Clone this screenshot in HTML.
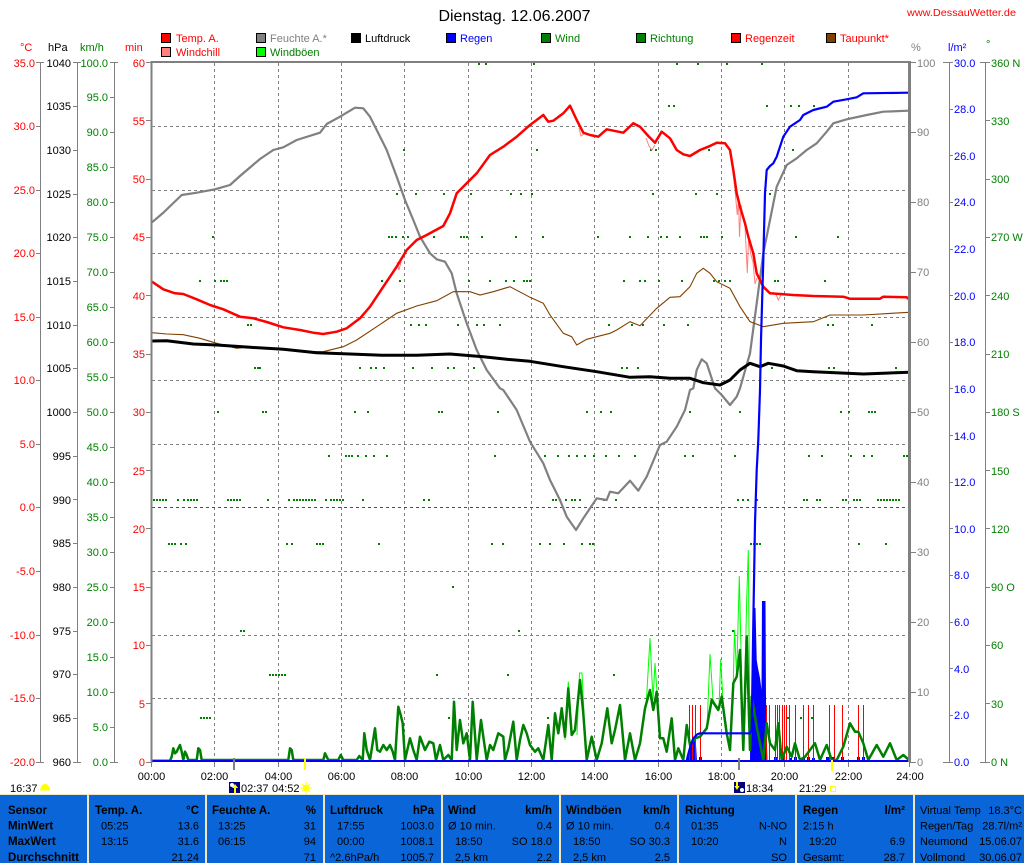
<!DOCTYPE html>
<html><head><meta charset="utf-8">
<style>
html,body{margin:0;padding:0;background:#fff;}
body{width:1024px;height:863px;overflow:hidden;}
svg{display:block;font-family:"Liberation Sans",Arial,sans-serif;}
.t11{font-size:11px;}
.b{font-weight:bold;font-size:11.5px;}
</style></head>
<body>
<svg width="1024" height="863" viewBox="0 0 1024 863" xmlns="http://www.w3.org/2000/svg">
<rect x="0" y="0" width="1024" height="863" fill="#fff"/>

<!-- Title -->
<text x="514.5" y="21" font-size="16" text-anchor="middle" fill="#000">Dienstag. 12.06.2007</text>
<text x="907" y="16" font-size="10.5" fill="#ff0000" textLength="109" lengthAdjust="spacingAndGlyphs">www.DessauWetter.de</text>

<!-- Legend -->
<g class="t11" font-size="10.5">
<rect x="161.5" y="33.5" width="9" height="9" fill="#ff0000" stroke="#000"/><text x="176" y="42" fill="#ff0000">Temp. A.</text>
<rect x="161.5" y="47.5" width="9" height="9" fill="#ff8080" stroke="#000"/><text x="176" y="56" fill="#ff0000">Windchill</text>
<rect x="256.5" y="33.5" width="9" height="9" fill="#808080" stroke="#000"/><text x="270" y="42" fill="#808080">Feuchte A.*</text>
<rect x="256.5" y="47.5" width="9" height="9" fill="#00ff00" stroke="#000"/><text x="270" y="56" fill="#008000">Windböen</text>
<rect x="351.5" y="33.5" width="9" height="9" fill="#000" stroke="#000"/><text x="365" y="42" fill="#000">Luftdruck</text>
<rect x="446.5" y="33.5" width="9" height="9" fill="#0000ff" stroke="#000"/><text x="460" y="42" fill="#0000ff">Regen</text>
<rect x="541.5" y="33.5" width="9" height="9" fill="#008000" stroke="#000"/><text x="555" y="42" fill="#008000">Wind</text>
<rect x="636.5" y="33.5" width="9" height="9" fill="#008000" stroke="#000"/><text x="650" y="42" fill="#008000">Richtung</text>
<rect x="731.5" y="33.5" width="9" height="9" fill="#ff0000" stroke="#000"/><text x="745" y="42" fill="#ff0000">Regenzeit</text>
<rect x="826.5" y="33.5" width="9" height="9" fill="#804000" stroke="#000"/><text x="840" y="42" fill="#ff0000">Taupunkt*</text>
</g>

<!-- Axis titles -->
<g class="t11">
<text x="20" y="51" fill="#ff0000">°C</text>
<text x="48" y="51" fill="#000">hPa</text>
<text x="80" y="51" fill="#008000">km/h</text>
<text x="125" y="51" fill="#ff0000">min</text>
<text x="911" y="51" fill="#808080">%</text>
<text x="948" y="51" fill="#0000ff">l/m²</text>
<text x="986" y="48" fill="#008000">°</text>
</g>

<!-- Grid -->
<g stroke="#808080" stroke-width="1" stroke-dasharray="3,3" shape-rendering="crispEdges">
<path d="M152 126.5H909M152 190.5H909M152 253.5H909M152 317.5H909M152 380.5H909M152 444.5H909M152 571.5H909M152 635.5H909M152 698.5H909"/>
<path d="M214.5 63V762M278.5 63V762M341.5 63V762M404.5 63V762M468.5 63V762M531.5 63V762M594.5 63V762M658.5 63V762M721.5 63V762M784.5 63V762M848.5 63V762"/>
</g>
<path d="M152 507.5H909" stroke="#ff0000" stroke-dasharray="3,3" shape-rendering="crispEdges"/>

<!-- Wind direction dots -->
<path stroke="#008000" stroke-width="2" fill="none" shape-rendering="crispEdges" d="
M478 64h2M485 64h2M533 64h2M676 64h2M697 64h2M726 64h2M761 64h2
M668 106h2M673 106h2M766 106h2M790 106h2M798 106h2M813 106h2
M403 150h2M536 150h2M650 150h2M655 150h2M708 150h2M792 150h2
M396 194h2M415 194h2M443 194h2M470 194h2M510 194h2M520 194h2M531 194h2M652 194h2M695 194h2M716 194h2M769 194h2
M212 237h2M388 237h2M391 237h2M395 237h2M402 237h2M407 237h2M433 237h2M460 237h2M463 237h2M466 237h2M481 237h2M515 237h2M542 237h2M597 237h2M629 237h2M647 237h2M660 237h2M666 237h2M679 237h2M700 237h2M703 237h2M706 237h2M721 237h2M795 237h2M837 237h2
M199 281h2M214 281h2M220 281h2M223 281h2M226 281h2M381 281h2M399 281h2M468 281h2M489 281h2M505 281h2M513 281h2M523 281h2M526 281h2M529 281h2M623 281h2M639 281h2M644 281h2M658 281h2M681 281h2M713 281h2M718 281h2M724 281h2M729 281h2M774 281h2M777 281h2M824 281h2
M247 325h2M250 325h2M410 325h2M418 325h2M425 325h2M457 325h2M476 325h2M483 325h2M499 325h2M608 325h2M631 325h2M642 325h2M663 325h2M687 325h2M827 325h2M832 325h2M871 325h2
M254 368h2M257 368h2M259 368h2M359 368h2M370 368h2M375 368h2M383 368h2M412 368h2M431 368h2M447 368h2M453 368h2M473 368h2M621 368h2M626 368h2M637 368h2M771 368h2M828 368h2M833 368h2M895 368h2
M217 412h2M262 412h2M265 412h2M354 412h2M367 412h2M438 412h2M441 412h2M497 412h2M586 412h2M600 412h2M610 412h2M689 412h2M739 412h2M840 412h2M848 412h2M868 412h2M871 412h2M874 412h2
M328 456h2M345 456h2M348 456h2M351 456h2M357 456h2M365 456h2M373 456h2M386 456h2M494 456h2M544 456h2M557 456h2M568 456h2M576 456h2M584 456h2M593 456h2M605 456h2M618 456h2M634 456h2M684 456h2M692 456h2M734 456h2M808 456h2M821 456h2M850 456h2M863 456h2M871 456h2M903 456h2M906 456h2
M153 500h2M156 500h2M159 500h2M162 500h2M165 500h2M177 500h2M183 500h2M187 500h2M190 500h2M193 500h2M196 500h2M227 500h2M230 500h2M233 500h2M236 500h2M239 500h2M267 500h2M288 500h2M293 500h2M296 500h2M299 500h2M302 500h2M305 500h2M308 500h2M311 500h2M314 500h2M325 500h2M330 500h2M333 500h2M336 500h2M339 500h2M342 500h2M362 500h2M423 500h2M428 500h2M552 500h2M555 500h2M559 500h2M565 500h2M571 500h2M574 500h2M579 500h2M603 500h2M615 500h2M737 500h2M742 500h2M747 500h2M756 500h2M803 500h2M806 500h2M816 500h2M819 500h2M842 500h2M845 500h2M853 500h2M856 500h2M859 500h2M877 500h2M880 500h2M883 500h2M886 500h2M889 500h2M892 500h2M895 500h2M898 500h2M908 500h1
M168 544h2M171 544h2M174 544h2M180 544h2M185 544h2M286 544h2M291 544h2M316 544h2M319 544h2M322 544h2M378 544h2M491 544h2M502 544h2M539 544h2M549 544h2M563 544h2M581 544h2M589 544h2M592 544h2M750 544h2M753 544h2M756 544h2M759 544h2M858 544h2M885 544h2
M452 587h2
M240 631h2M243 631h2M518 631h2M732 631h2
M269 675h2M272 675h2M275 675h2M278 675h2M281 675h2M284 675h2M436 675h2M507 675h2M613 675h2
M200 718h2M203 718h2M206 718h2M209 718h2M448 718h2M547 718h2M787 718h2M800 718h2M811 718h2"/>

<!-- Rain bars -->
<g fill="#0000ff">
<polygon points="686,762 688,752 690,744 692,739 694,738 696,745 697,762"/>
<polygon points="750,762 750.5,705 751.7,718 753,640 754,608 755.5,608 756.7,660 758,668 760,678 761.5,690 762,601 765.5,601 766,700 766.7,737 767.5,762"/>
<rect x="699" y="757" width="3" height="5"/><rect x="774" y="757" width="3" height="5"/><rect x="782" y="757" width="3" height="5"/><rect x="789" y="758" width="3" height="4"/><rect x="794" y="757" width="3" height="5"/><rect x="802" y="758" width="3" height="4"/><rect x="807" y="757" width="3" height="5"/><rect x="812" y="758" width="3" height="4"/><rect x="826" y="757" width="3" height="5"/><rect x="832" y="757" width="3" height="5"/><rect x="841" y="757" width="3" height="5"/><rect x="857" y="757" width="3" height="5"/><rect x="862" y="757" width="3" height="5"/>
</g>

<!-- Regenzeit -->
<path stroke="#ff0000" stroke-width="1" shape-rendering="crispEdges" d="M689.5 705V762M692.5 705V762M695.5 705V762M700.5 705V762M766.5 705V762M769.5 705V762M775.5 705V762M777.5 705V762M779.5 705V762M782.5 705V762M784.5 705V762M786.5 705V762M789.5 705V762M795.5 705V762M803.5 705V762M808.5 705V762M813.5 705V762M829.5 705V762M834.5 705V762M842.5 705V762M858.5 705V762M863.5 705V762"/>

<!-- Gusts -->
<g fill="none" stroke="#00ff00" stroke-width="1">
<polyline points="565,740 568.3,681.7 571.7,735"/>
<polyline points="577,735 579.5,673 582,673 584,713"/>
<polyline points="646,708 650,638 653,700 655,663 657,692"/>
<polyline points="707,728 710,654 713,700 716,705 719,708 720.7,659 724,720"/>
<polyline points="730,750 733.3,683 734.5,630 736.7,676 739.3,576 741,650 743.3,750 746.7,600 748.3,550 750,750"/>
</g>

<!-- Wind -->
<polyline fill="none" stroke="#008000" stroke-width="2.5" stroke-linejoin="round" points="152,760.7 170,760.7 171.7,756.7 173.3,748.3 175,753.3 176.7,751.7 178.3,748.3 180,745 181.7,751.7 183.3,760 185,751.7 186.7,755 188.3,760 196.7,760 198.3,748.3 200,750 201.7,760 288.3,760 290,748.3 291.7,750 293.3,760 323.3,760 325,753.3 328.3,760 338.3,760 340.7,755 343.3,760 356.7,760 359.3,756 362.7,760 364.3,733.3 366.7,750 370,760 375,728.3 377.3,750 380,751.7 383.3,745 386.7,750 390,745 392.7,751.7 395,760 398.3,706.7 400.7,715 402.7,723.3 405,760 410,738.3 413.3,750 416.7,760 420,736.7 425,750 429.3,741.7 433.3,743.3 436,760 440,745 443.3,760 448.3,755 451.7,760 454,701.7 456.7,750 460,720 463.3,743.3 466.7,733.3 470,760 472.7,701.7 476.7,760 481,720 483.3,736.7 486.7,760 490,745 493.3,750 498.3,733.3 503.3,736.7 505,760 508.3,748.3 513.3,721.7 516.7,760 520,740 523.3,725 526.7,733.3 530,745 535,751.7 538.3,748.3 543.3,760 548.3,725 551.7,760 555,713.3 558.3,733.3 561.7,708.3 565,736.7 568.3,688.3 571.7,735 575,730 580,680 583.3,713.3 586.7,760 591.7,736.7 596.7,760 601.7,743.3 607.3,708.3 611.7,743.3 615,730 620,705 625,760 630,733.3 635,760 640,743.3 645,708.3 650,690 653.3,710 656.7,691.7 660,738.3 663.3,738.3 666.7,751.7 671.7,718.3 675,760 678.3,748.3 683.3,760 686.7,725 690,745 695,738.3 700,736.7 706.7,728.3 711.7,700 715,705 718.3,710 721.7,696.7 726.7,733.3 730,750 733.3,683.3 736.7,676.7 740,650 743.3,750 746.7,636.7 750,750 751.7,696.7 756.7,726.7 760,743.3 763.3,760 766.7,723.3 770,743.3 775,750 778.3,723.3 781.7,760 786.7,746.7 791.7,756.7 795,743.3 800,760 805,756.7 815,743.3 820,760 826.7,745 831.7,760 836.7,760 843.3,746.7 850,723.3 855,731.7 858.3,731.7 863.3,743.3 868.3,760 876.7,745 883.3,756.7 890,743.3 896.7,760 903.3,755 909,760"/>

<!-- Rain zero line -->
<path d="M152 761H909" stroke="#0000ff" stroke-width="2"/>

<!-- Humidity -->
<polyline fill="none" stroke="#808080" stroke-width="2.2" stroke-linejoin="round" points="152,222.3 163,213 181.7,195 196.7,192.7 215,189.3 230,185 240,176 260,159 273.3,150 283.3,147.3 296.7,140 320,132.7 326.7,124 340,116.7 355,107.7 363.3,108.3 370,116.7 376.7,130 386.7,150 396.7,176.7 405,200 413.3,220 420,236.7 430,253.3 436.7,259.3 445,261.7 451.7,273.3 456.7,293.3 466.7,323.3 476.7,350 486.7,370 500,388.3 503.3,390 516.7,410 530,441.7 543.3,463.3 550,480 560,500 566.7,516.7 576,530 583.3,518.3 596.7,498.3 606.7,500 610,491.7 618.3,493.3 630,480.7 638.3,490.7 646.7,476.7 660,445 666.7,441.7 676.7,426.7 685,410 690,390 693.3,388.3 696.7,370 701.7,359.3 706.7,363.3 715,388.3 716.7,390 721.7,395 730,405 736.7,396.7 740,388.3 750,353.3 756.7,303.3 763.3,253.3 770,220 776.7,186.7 786.7,165 796.7,158.3 806.7,150 816.7,143.3 826.7,131.7 833.3,123.3 846.7,119.3 866.7,115 883.3,111.7 909,110.7"/>

<!-- Dewpoint -->
<polyline fill="none" stroke="#804000" stroke-width="1.1" points="152,332.7 166.7,334 183.3,334.7 200,338.3 216.7,343.3 236.7,348.3 250,346.7 283.3,349.3 300,351.7 323.3,351.7 343.3,346.7 356.7,340 376.7,326.7 396.7,313.3 416.7,306 436.7,300.7 453.3,291.7 470,291.7 480,295 493.3,291.7 510,286.7 530,297.3 543.3,303.3 550,315 563.3,333.3 571.7,336.7 576.7,345 586.7,339.3 596.7,336.7 610,333.3 616.7,330 630,321.7 640,325.7 656.7,308.3 670,297.3 680,296.7 690,286.7 696.7,273.3 703.3,268.3 710,273.3 716.7,281.7 730,288.3 740,306.7 750,321.7 763.3,326.7 783.3,323.3 813.3,321.7 830,315 863.3,315 909,312.3"/>

<!-- Pressure -->
<polyline fill="none" stroke="#000" stroke-width="3" stroke-linejoin="round" points="152,341 166.7,340.7 193.3,344 216.7,345 250,347.3 283.3,349.3 316.7,352.7 350,354 383.3,355.3 416.7,355.3 450,354 483.3,356.7 506.7,359.3 530,361.3 563.3,366.7 596.7,371.7 630,377.3 650,376.7 670,378.3 690,378.3 703.3,382.7 720,385 730,380 740,370 750,363.3 760,366.7 768.3,363.3 783.3,366 796.7,370.7 813.3,371.7 846.7,373.3 863.3,374 909,372.3"/>

<!-- Windchill -->
<g fill="none" stroke="#ff8080" stroke-width="1">
<polyline points="733,170 735,190 737.3,215 738.5,200 739.5,237 741,205 743.3,219 745,226 747.3,273 748.5,240 751,255 753,262 755,284 757,278"/>
<polyline points="776,294 778.3,300 781,295"/>
<polyline points="449,215 452,207 455,200"/>
<polyline points="579,128 581,136 584,134"/>
<polyline points="646,138 649,146 652,150 655,145"/>
<polyline points="397,262 399,270 401,262"/>
</g>

<!-- Temperature -->
<polyline fill="none" stroke="#ff0000" stroke-width="2.5" stroke-linejoin="round" points="152,281.7 163.3,289.3 175,293.3 183.3,294 196.7,299.3 210,305 223.3,309.3 240,316.7 253.3,318.3 266.7,322 283.3,327.3 300,330 313.3,332.7 323.3,334 336.7,331.7 346.7,328.3 360,318.3 370,306.7 383.3,286.7 396.7,266.7 406.7,250 416.7,240 426.7,235 443.3,226 450,213.3 456.7,193.3 466.7,183.3 476.7,173.3 490,155 503.3,146.7 516.7,136.7 530,125 536.7,120 543.3,115 548.3,121.7 553.3,120.7 563.3,113.3 570,105.7 576.7,120 583.3,132.7 590,135 598.3,136.7 606.7,129.3 623.3,132.7 633.3,123.3 640,126.7 648.3,136 655,142.7 661.7,131.7 670,138.3 676.7,150 683.3,154.3 690,156 700,150 708.3,146.7 716.7,142.7 725,143.3 730,150 733.3,170 736.7,193.3 740,206.7 745,223.3 748.3,236.7 753.3,253.3 756.7,273.3 763.3,286.7 770,293.3 793.3,295 813.3,296 843.3,296.7 850,298.7 880,298.7 883.3,296.7 906.7,297.3 909,299.3"/>

<!-- Cumulative rain -->
<polyline fill="none" stroke="#0000ff" stroke-width="2.2" stroke-linejoin="round" points="686.7,761 688,755 690,748 693.3,738.3 697,734.5 700,733.3 750,733.3 751.7,730 753.3,623 755,523 756.7,470 758.3,440 760,390 761,340 763.3,260 765,193.3 766.7,170 770,166 773.3,163.3 776.7,156.7 783.3,136.7 790,126.7 800,120 803.3,115 813.3,110 826.7,106.7 833.3,101.7 846.7,99.3 856.7,97.3 863.3,93.3 909,92.7"/>

<!-- Plot border -->
<g stroke="#808080" fill="none" shape-rendering="crispEdges">
<path d="M151 62H911" stroke-width="2"/>
<path d="M151.5 61V763" stroke-width="2"/>
<path d="M910 61V763" stroke-width="2"/>
<path d="M908.5 62V762" stroke-width="1"/>
<!-- left axes -->
<path d="M40.5 62V762M77.5 62V762M114.5 62V762M949.5 62V762M985.5 62V762" stroke-width="1"/>
<!-- top/bottom T ticks -->
<path d="M36 62.5H44M73 62.5H81M110 62.5H118M943 62.5H953M980 62.5H990M36 762.5H44M73 762.5H81M110 762.5H118M943 762.5H953M980 762.5H990"/>
<!-- temp ticks -->
<path d="M36 126.5H40M36 190.5H40M36 253.5H40M36 317.5H40M36 380.5H40M36 444.5H40M36 507.5H40M36 571.5H40M36 635.5H40M36 698.5H40"/>
<!-- hPa ticks -->
<path d="M73 106.5H77M73 150.5H77M73 194.5H77M73 237.5H77M73 281.5H77M73 325.5H77M73 368.5H77M73 412.5H77M73 456.5H77M73 499.5H77M73 543.5H77M73 587.5H77M73 631.5H77M73 674.5H77M73 718.5H77"/>
<!-- km/h ticks -->
<path d="M110 97.5H114M110 132.5H114M110 167.5H114M110 202.5H114M110 237.5H114M110 272.5H114M110 307.5H114M110 342.5H114M110 377.5H114M110 412.5H114M110 447.5H114M110 482.5H114M110 517.5H114M110 552.5H114M110 587.5H114M110 622.5H114M110 657.5H114M110 692.5H114M110 727.5H114"/>
<!-- min ticks -->
<path d="M146 62.5H151M146 120.5H151M146 179.5H151M146 237.5H151M146 295.5H151M146 354.5H151M146 412.5H151M146 470.5H151M146 528.5H151M146 587.5H151M146 645.5H151M146 703.5H151M146 762.5H151"/>
<!-- % ticks -->
<path d="M911 62.5H916M911 132.5H916M911 202.5H916M911 272.5H916M911 342.5H916M911 412.5H916M911 482.5H916M911 552.5H916M911 622.5H916M911 692.5H916M911 762.5H916"/>
<!-- l/m2 ticks -->
<path d="M949 109.5H953M949 155.5H953M949 202.5H953M949 249.5H953M949 295.5H953M949 342.5H953M949 388.5H953M949 435.5H953M949 482.5H953M949 528.5H953M949 575.5H953M949 622.5H953M949 668.5H953M949 715.5H953"/>
<!-- dir ticks -->
<path d="M985 120.5H990M985 179.5H990M985 237.5H990M985 295.5H990M985 354.5H990M985 412.5H990M985 470.5H990M985 528.5H990M985 587.5H990M985 645.5H990M985 703.5H990"/>
<!-- bottom time ticks -->
<path d="M151.5 762V767M214.5 762V767M278.5 762V767M341.5 762V767M404.5 762V767M468.5 762V767M531.5 762V767M594.5 762V767M658.5 762V767M721.5 762V767M784.5 762V767M848.5 762V767M909.5 762V767"/>
</g>
<rect x="233" y="758" width="2" height="12" fill="#808080"/>
<rect x="738" y="758" width="2" height="12" fill="#808080"/>
<rect x="304" y="758" width="2" height="12" fill="#ffff00"/>
<rect x="831" y="760" width="2" height="11" fill="#ffff00"/>

<!-- Left axis labels -->
<g class="t11" fill="#ff0000" text-anchor="end">
<text x="35" y="67">35.0</text><text x="35" y="130">30.0</text><text x="35" y="194">25.0</text><text x="35" y="257">20.0</text><text x="35" y="321">15.0</text><text x="35" y="384">10.0</text><text x="35" y="448">5.0</text><text x="35" y="511">0.0</text><text x="35" y="575">-5.0</text><text x="35" y="639">-10.0</text><text x="35" y="702">-15.0</text><text x="35" y="766">-20.0</text>
</g>
<g class="t11" fill="#000" text-anchor="end">
<text x="71" y="67">1040</text><text x="71" y="110">1035</text><text x="71" y="154">1030</text><text x="71" y="198">1025</text><text x="71" y="241">1020</text><text x="71" y="285">1015</text><text x="71" y="329">1010</text><text x="71" y="372">1005</text><text x="71" y="416">1000</text><text x="71" y="460">995</text><text x="71" y="504">990</text><text x="71" y="547">985</text><text x="71" y="591">980</text><text x="71" y="635">975</text><text x="71" y="678">970</text><text x="71" y="722">965</text><text x="71" y="766">960</text>
</g>
<g class="t11" fill="#008000" text-anchor="end">
<text x="108" y="67">100.0</text><text x="108" y="101">95.0</text><text x="108" y="136">90.0</text><text x="108" y="171">85.0</text><text x="108" y="206">80.0</text><text x="108" y="241">75.0</text><text x="108" y="276">70.0</text><text x="108" y="311">65.0</text><text x="108" y="346">60.0</text><text x="108" y="381">55.0</text><text x="108" y="416">50.0</text><text x="108" y="451">45.0</text><text x="108" y="486">40.0</text><text x="108" y="521">35.0</text><text x="108" y="556">30.0</text><text x="108" y="591">25.0</text><text x="108" y="626">20.0</text><text x="108" y="661">15.0</text><text x="108" y="696">10.0</text><text x="108" y="731">5.0</text><text x="108" y="766">0.0</text>
</g>
<g class="t11" fill="#ff0000" text-anchor="end">
<text x="145" y="67">60</text><text x="145" y="125">55</text><text x="145" y="183">50</text><text x="145" y="241">45</text><text x="145" y="300">40</text><text x="145" y="358">35</text><text x="145" y="416">30</text><text x="145" y="475">25</text><text x="145" y="533">20</text><text x="145" y="591">15</text><text x="145" y="649">10</text><text x="145" y="708">5</text><text x="145" y="766">0</text>
</g>

<!-- Right axis labels -->
<g class="t11" fill="#808080">
<text x="917" y="67">100</text><text x="917" y="136">90</text><text x="917" y="206">80</text><text x="917" y="276">70</text><text x="917" y="346">60</text><text x="917" y="416">50</text><text x="917" y="486">40</text><text x="917" y="556">30</text><text x="917" y="626">20</text><text x="917" y="696">10</text><text x="917" y="766">0</text>
</g>
<g class="t11" fill="#0000ff">
<text x="954" y="67">30.0</text><text x="954" y="113">28.0</text><text x="954" y="160">26.0</text><text x="954" y="206">24.0</text><text x="954" y="253">22.0</text><text x="954" y="300">20.0</text><text x="954" y="346">18.0</text><text x="954" y="393">16.0</text><text x="954" y="440">14.0</text><text x="954" y="486">12.0</text><text x="954" y="533">10.0</text><text x="954" y="579">8.0</text><text x="954" y="626">6.0</text><text x="954" y="673">4.0</text><text x="954" y="719">2.0</text><text x="954" y="766">0.0</text>
</g>
<g class="t11" fill="#008000">
<text x="991" y="67">360 N</text><text x="991" y="125">330</text><text x="991" y="183">300</text><text x="991" y="241">270 W</text><text x="991" y="300">240</text><text x="991" y="358">210</text><text x="991" y="416">180 S</text><text x="991" y="475">150</text><text x="991" y="533">120</text><text x="991" y="591">90 O</text><text x="991" y="649">60</text><text x="991" y="708">30</text><text x="991" y="766">0 N</text>
</g>

<!-- Time labels -->
<g class="t11" fill="#000" text-anchor="middle">
<text x="151.5" y="780">00:00</text><text x="214.5" y="780">02:00</text><text x="278.5" y="780">04:00</text><text x="341.5" y="780">06:00</text><text x="404.5" y="780">08:00</text><text x="468.5" y="780">10:00</text><text x="531.5" y="780">12:00</text><text x="594.5" y="780">14:00</text><text x="658.5" y="780">16:00</text><text x="721.5" y="780">18:00</text><text x="784.5" y="780">20:00</text><text x="848.5" y="780">22:00</text><text x="910" y="780">24:00</text>
</g>

<!-- Sun/moon row -->
<g class="t11" fill="#000">
<text x="10" y="792">16:37</text>
<text x="241" y="792">02:37</text>
<text x="272" y="792">04:52</text>
<text x="746" y="792">18:34</text>
<text x="799" y="792">21:29</text>
</g>
<path d="M40 790.5 Q41 784 45 784 Q49 784 50 790.5 Z" fill="#ffff00"/>
<rect x="229" y="782" width="11" height="11" fill="#000080"/>
<circle cx="232" cy="785" r="2" fill="#fff"/>
<path d="M235 784 L238 788 L236 788 L236 793 L234 793 L234 788 L232 788 Z" fill="#ffff00"/>
<circle cx="306" cy="788" r="3.2" fill="#ffff00"/>
<path d="M306 782V794M300 788H312M302 784L310 792M310 784L302 792" stroke="#ffff00" stroke-width="1"/>
<rect x="734" y="782" width="11" height="11" fill="#000080"/>
<circle cx="742" cy="790" r="2" fill="#fff"/>
<path d="M737 790 L734.5 786 L736 786 L736 782 L738 782 L738 786 L739.5 786 Z" fill="#ffff00"/>
<rect x="830.5" y="786.5" width="5" height="5" fill="none" stroke="#ffff00"/>

<!-- Info panel -->
<rect x="0" y="794" width="1024" height="69" fill="#0a66d8"/>
<path d="M0 794.5H1024" stroke="#f0e6c0" stroke-width="1"/>
<g fill="#f0e6c0">
<rect x="87" y="794" width="2" height="69"/><rect x="205" y="794" width="2" height="69"/><rect x="323" y="794" width="2" height="69"/><rect x="441" y="794" width="2" height="69"/><rect x="559" y="794" width="2" height="69"/><rect x="677" y="794" width="2" height="69"/><rect x="795" y="794" width="2" height="69"/><rect x="913" y="794" width="2" height="69"/>
</g>
<g fill="#000">
<g class="b">
<text x="8" y="814">Sensor</text><text x="8" y="829.5">MinWert</text><text x="8" y="845">MaxWert</text><text x="8" y="861">Durchschnitt</text>
<text x="95" y="814">Temp. A.</text><text x="199" y="814" text-anchor="end">°C</text>
<text x="212" y="814">Feuchte A.</text><text x="316" y="814" text-anchor="end">%</text>
<text x="330" y="814">Luftdruck</text><text x="434" y="814" text-anchor="end">hPa</text>
<text x="448" y="814">Wind</text><text x="552" y="814" text-anchor="end">km/h</text>
<text x="566" y="814">Windböen</text><text x="670" y="814" text-anchor="end">km/h</text>
<text x="685" y="814">Richtung</text>
<text x="803" y="814">Regen</text><text x="905" y="814" text-anchor="end">l/m²</text>
</g>
<g class="t11">
<text x="101" y="829.5">05:25</text><text x="199" y="829.5" text-anchor="end">13.6</text>
<text x="101" y="845">13:15</text><text x="199" y="845" text-anchor="end">31.6</text>
<text x="199" y="861" text-anchor="end">21.24</text>
<text x="218" y="829.5">13:25</text><text x="316" y="829.5" text-anchor="end">31</text>
<text x="218" y="845">06:15</text><text x="316" y="845" text-anchor="end">94</text>
<text x="316" y="861" text-anchor="end">71</text>
<text x="337" y="829.5">17:55</text><text x="434" y="829.5" text-anchor="end">1003.0</text>
<text x="337" y="845">00:00</text><text x="434" y="845" text-anchor="end">1008.1</text>
<text x="330" y="861">^2.6hPa/h</text><text x="434" y="861" text-anchor="end">1005.7</text>
<text x="448" y="829.5">Ø 10 min.</text><text x="552" y="829.5" text-anchor="end">0.4</text>
<text x="455" y="845">18:50</text><text x="552" y="845" text-anchor="end">SO 18.0</text>
<text x="455" y="861">2,5 km</text><text x="552" y="861" text-anchor="end">2.2</text>
<text x="566" y="829.5">Ø 10 min.</text><text x="670" y="829.5" text-anchor="end">0.4</text>
<text x="573" y="845">18:50</text><text x="670" y="845" text-anchor="end">SO 30.3</text>
<text x="573" y="861">2,5 km</text><text x="670" y="861" text-anchor="end">2.5</text>
<text x="691" y="829.5">01:35</text><text x="787" y="829.5" text-anchor="end">N-NO</text>
<text x="691" y="845">10:20</text><text x="787" y="845" text-anchor="end">N</text>
<text x="787" y="861" text-anchor="end">SO</text>
<text x="803" y="829.5">2:15 h</text>
<text x="809" y="845">19:20</text><text x="905" y="845" text-anchor="end">6.9</text>
<text x="803" y="861">Gesamt:</text><text x="905" y="861" text-anchor="end">28.7</text>
<text x="920" y="814">Virtual Temp</text><text x="1022" y="814" text-anchor="end">18.3°C</text>
<text x="920" y="829.5">Regen/Tag</text><text x="1022" y="829.5" text-anchor="end">28.7l/m²</text>
<text x="920" y="845">Neumond</text><text x="1022" y="845" text-anchor="end">15.06.07</text>
<text x="920" y="861">Vollmond</text><text x="1022" y="861" text-anchor="end">30.06.07</text>
</g>
</g>
</svg>
</body></html>
